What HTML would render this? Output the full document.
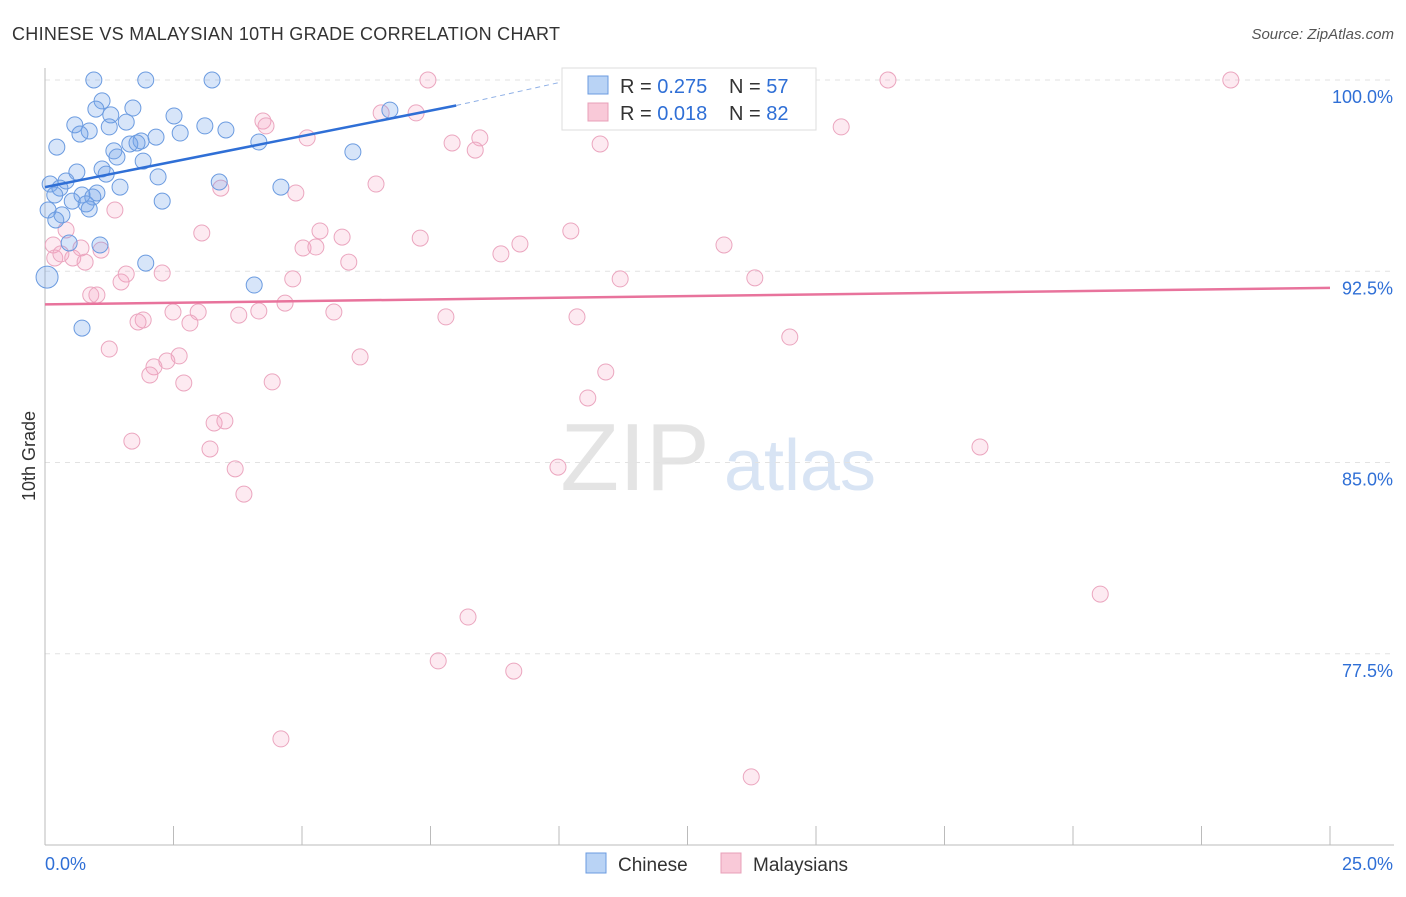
<!DOCTYPE html>
<html><head><meta charset="utf-8"><style>
body{margin:0;background:#fff;font-family:"Liberation Sans",sans-serif}
svg text{font-family:"Liberation Sans",sans-serif}
</style></head><body>
<svg id="c" width="1406" height="892" xmlns="http://www.w3.org/2000/svg">
<text x="12" y="40" font-size="18" fill="#333" textLength="548">CHINESE VS MALAYSIAN 10TH GRADE CORRELATION CHART</text>
<text x="1394" y="39" font-size="15" fill="#555" font-style="italic" text-anchor="end">Source: ZipAtlas.com</text>
<text x="35" y="456" font-size="18" fill="#333" transform="rotate(-90 35 456)" text-anchor="middle">10th Grade</text>
<g><text x="635" y="490" font-size="96" fill="#e4e4e4" font-family="Liberation Serif" text-anchor="middle">ZIP</text><text x="800" y="490" font-size="72" fill="#d8e4f4" text-anchor="middle">atlas</text></g>
<g id="grid"></g><g id="axes"></g><g id="pts"></g><g id="lines"></g>
<g>
<rect x="562" y="68" width="254" height="62" fill="#fff" stroke="#ddd"/>
<rect x="588" y="76" width="20" height="18" fill="#b9d3f5" stroke="#6b9be0"/>
<rect x="588" y="103" width="20" height="18" fill="#f9c9d8" stroke="#e8a0b8"/>
<text x="620" y="93" font-size="20" fill="#333">R = <tspan fill="#2f6fd6">0.275</tspan></text>
<text x="729" y="93" font-size="20" fill="#333">N = <tspan fill="#2f6fd6">57</tspan></text>
<text x="620" y="120" font-size="20" fill="#333">R = <tspan fill="#2f6fd6">0.018</tspan></text>
<text x="729" y="120" font-size="20" fill="#333">N = <tspan fill="#2f6fd6">82</tspan></text>
</g>
<g>
<rect x="586" y="853" width="20" height="20" fill="#b9d3f5" stroke="#6b9be0"/>
<text x="618" y="871" font-size="19" fill="#333">Chinese</text>
<rect x="721" y="853" width="20" height="20" fill="#f9c9d8" stroke="#e8a0b8"/>
<text x="753" y="871" font-size="19" fill="#333">Malaysians</text>
</g>
</svg>
<script>
const yTicks=[100,92.5,85,77.5];
const yTickLabels=["100.0%","92.5%","85.0%","77.5%"];
const xEnds=["0.0%","25.0%"];
const chineseX=[0.95,1.96,3.25,1.11,0.99,1.71,1.28,2.51,0.58,1.58,1.25,0.86,0.68,2.63,3.11,3.52,6.71,0.23,1.87,2.16,1.65,1.79,1.34,1.40,4.16,5.99,1.91,1.11,0.62,1.19,2.20,0.41,0.10,0.29,3.39,4.59,1.46,1.01,0.72,0.93,0.19,0.53,0.80,0.86,2.28,0.06,0.33,0.21,0.47,1.07,1.96,4.07,0.72,0.04];
const chineseY=[100,100,100,99.18,98.86,98.90,98.63,98.59,98.24,98.35,98.16,98.0,97.88,97.92,98.20,98.04,98.82,97.37,97.61,97.76,97.49,97.53,97.22,96.98,97.57,97.18,96.82,96.51,96.39,96.31,96.20,96.04,95.92,95.76,96.0,95.80,95.80,95.57,95.49,95.41,95.49,95.25,95.14,94.94,95.25,94.90,94.71,94.51,93.61,93.53,92.82,91.96,90.27,92.27];
const malayX=[7.45,14.09,16.40,23.07,11.52,4.24,4.30,6.54,7.22,15.49,5.10,8.46,7.92,8.37,10.80,6.44,3.42,4.88,1.36,5.35,3.05,5.78,7.30,10.23,9.24,13.21,5.02,5.27,8.87,0.41,0.16,0.19,0.54,0.70,1.09,0.78,0.31,5.91,1.58,2.28,1.48,4.82,11.19,13.81,0.89,1.01,4.67,2.49,2.98,4.16,3.77,5.62,7.80,10.35,1.91,1.81,2.82,14.49,1.25,2.61,6.13,2.37,2.12,2.04,2.70,4.42,10.91,10.56,3.29,3.50,1.69,3.21,18.19,3.70,9.98,3.87,20.53,8.23,7.65,9.12,4.59,13.74];
const malayY=[100,100,100,100,100,98.39,98.20,98.71,98.71,98.16,97.73,97.73,97.53,97.25,97.49,95.92,95.76,95.57,94.90,94.08,94.0,93.84,93.80,94.08,93.57,93.53,93.41,93.45,93.18,94.12,93.53,93.02,93.02,93.41,93.33,92.86,93.18,92.86,92.39,92.43,92.08,92.20,92.20,92.24,91.57,91.57,91.25,90.90,90.90,90.94,90.78,90.90,90.71,90.71,90.59,90.51,90.47,89.92,89.45,89.18,89.14,88.98,88.75,88.43,88.12,88.16,88.55,87.53,86.55,86.63,85.84,85.53,85.61,84.75,84.82,83.76,79.84,78.94,77.22,76.82,74.16,72.67];
const chineseTrend=[[0,95.8],[8.0,99.0]];
const chineseTrendExt=[[8.0,99.0],[10.0,99.9]];
const malayTrend=[[0,91.2],[25,91.85]];
const NS="http://www.w3.org/2000/svg";
const X=v=>45+v*51.4, Y=v=>80+(100-v)*25.5;
function mk(t,a,p){const e=document.createElementNS(NS,t);for(const k in a)e.setAttribute(k,a[k]);p.appendChild(e);return e;}
const grid=document.getElementById('grid'),axes=document.getElementById('axes'),pts=document.getElementById('pts'),lines=document.getElementById('lines');
yTicks.forEach((t,i)=>{
 const g=mk('line',{x1:45,x2:1394,y1:Y(t),y2:Y(t),stroke:'#e2e2e2','stroke-dasharray':'5,5'},grid);
 
 
 const l=mk('text',{x:1393,y:Y(t)+23,'font-size':18,fill:'#2f6fd6','text-anchor':'end'},axes);l.textContent=yTickLabels[i];
 
 
});
mk('line',{x1:45,x2:45,y1:68,y2:845,stroke:'#bbb'},axes);
mk('line',{x1:45,x2:1394,y1:845,y2:845,stroke:'#bbb'},axes);
for(let i=0;i<=10;i++){const t=mk('line',{x1:X(i*2.5),x2:X(i*2.5),y1:826,y2:845,stroke:'#bbb'},axes);
 
 }
const a=mk('text',{x:45,y:870,'font-size':18,fill:'#2f6fd6'},axes);a.textContent=xEnds[0];


const b=mk('text',{x:1393,y:870,'font-size':18,fill:'#2f6fd6','text-anchor':'end'},axes);b.textContent=xEnds[1];


malayX.forEach((v,i)=>{const c=mk('circle',{cx:X(v),cy:Y(malayY[i]),r:8,fill:'rgba(244,160,190,0.22)',stroke:'#eba6bf','stroke-width':1},pts);
 
 });
chineseX.forEach((v,i)=>{const c=mk('circle',{cx:X(v),cy:Y(chineseY[i]),r:i==chineseX.length-1?11:8,fill:'rgba(110,160,235,0.28)',stroke:'#6b9be0','stroke-width':1},pts);
 
 });
const l1=mk('line',{x1:X(chineseTrend[0][0]),y1:Y(chineseTrend[0][1]),x2:X(chineseTrend[1][0]),y2:Y(chineseTrend[1][1]),stroke:'#2f6fd6','stroke-width':2.5},lines);


const l2=mk('line',{x1:X(chineseTrendExt[0][0]),y1:Y(chineseTrendExt[0][1]),x2:X(chineseTrendExt[1][0]),y2:Y(chineseTrendExt[1][1]),stroke:'#8fb0e6','stroke-width':1,'stroke-dasharray':'5,4'},lines);


const l3=mk('line',{x1:X(malayTrend[0][0]),y1:Y(malayTrend[0][1]),x2:X(malayTrend[1][0]),y2:Y(malayTrend[1][1]),stroke:'#e8739c','stroke-width':2.5},lines);


</script>
</body></html>
